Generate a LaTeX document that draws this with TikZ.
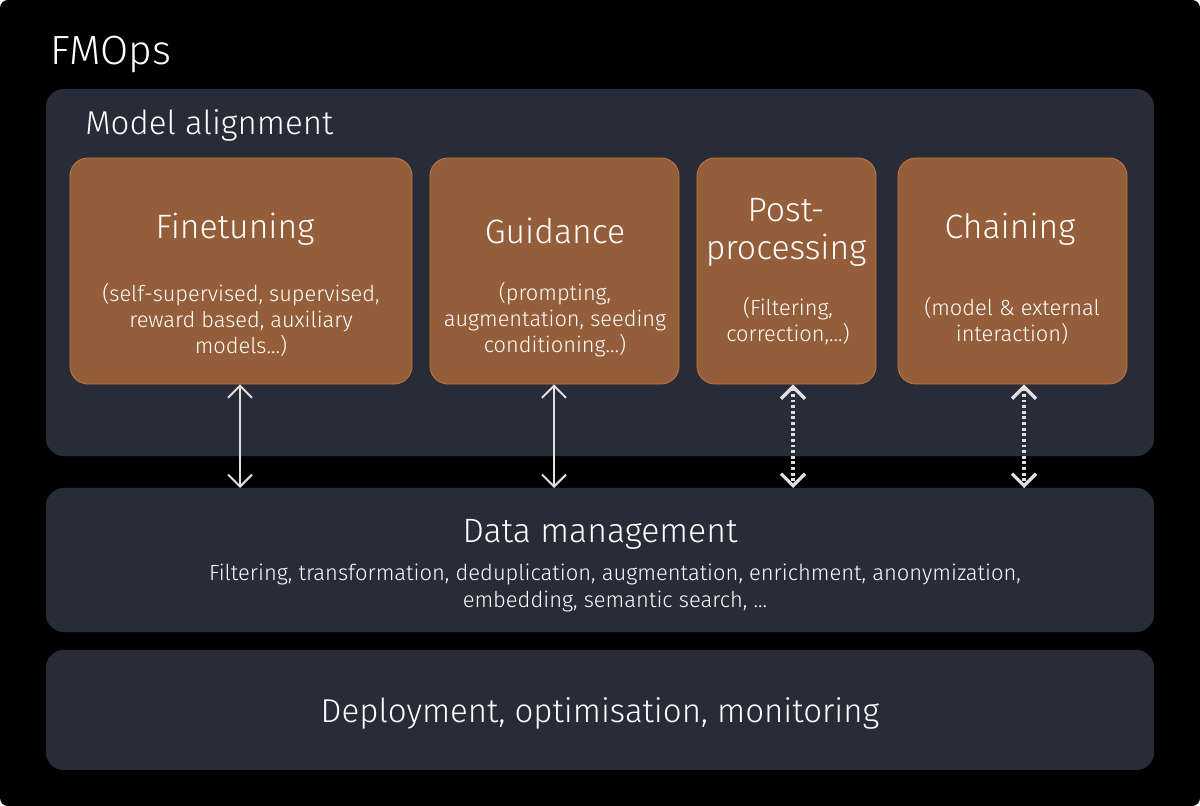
\documentclass[tikz,border=0pt]{standalone}
\usepackage{fontspec}
\setmainfont{Fira Sans}[UprightFont={* Light}]
\usepackage{tikz}
\usetikzlibrary{arrows.meta}
\usetikzlibrary{positioning}

\definecolor{panelgrey}{RGB}{40,44,57}
\definecolor{boxbrown}{RGB}{149,94,59}
\definecolor{boxedge}{RGB}{192,118,58}
\definecolor{arrowgrey}{RGB}{224,224,224}

\tikzset{
	link/.style={draw=arrowgrey, line width=1.4pt,
		{Straight Barb[length=3mm,width=6mm]}-{Straight Barb[length=3mm,width=6mm]}},
	dotlink/.style={link, line width=2.3pt, dash pattern=on 2pt off 2pt},
	bigtext/.style={font=\fontsize{24}{29}\selectfont},
	smalltext/.style={font=\fontsize{15.5}{18.5}\selectfont, align=center}
}

\begin{document}
\begin{tikzpicture}[x=0.025cm,y=-0.025cm]
	% frame
	\fill[white] (0,0) rectangle (1200,806);
	\fill[black, rounded corners=0.2cm] (0,0) rectangle (1200,806);
	% panels
	\begin{scope}[every node/.style={fill=panelgrey, rounded corners=0.45cm, minimum width=27.7cm, inner sep=0}]
		\node[minimum height=9.175cm] (align)  at (600,272.5) {};
		\node[minimum height=3.6cm]   (data)   at (600,560) {};
		\node[minimum height=3cm]     (deploy) at (600,710) {};
	\end{scope}
	% alignment boxes
	\begin{scope}[every node/.style={draw=boxedge, fill=boxbrown, line width=0.6pt, rounded corners=0.45cm, minimum height=5.65cm, inner sep=0}]
		\node[minimum width=8.55cm] (fine)  at (241,271) {};
		\node[minimum width=6.225cm] (guide) at (554.5,271) {};
		\node[minimum width=4.475cm] (post)  at (786.5,271) {};
		\node[minimum width=5.725cm] (chain) at (1012.5,271) {};
	\end{scope}
	% texts
	\begin{scope}[every node/.style={text=white, inner sep=0}]
		\node[font=\fontsize{29}{34}\selectfont, anchor=base west] (fmops) at (50,65) {FMOps};
		\node[font=\fontsize{23.5}{28}\selectfont, anchor=base west] (aligntitle) at (85,135) {Model alignment};
		\node[bigtext, anchor=base] (finetitle)  at (235,239) {Finetuning};
		\node[smalltext] (finesub) at (241,320) {(self-supervised, supervised,\\reward based, auxiliary\\models...)};
		\node[bigtext, anchor=base] (guidetitle) at (555,244) {Guidance};
		\node[smalltext] (guidesub) at (555,320) {(prompting,\\augmentation, seeding\\conditioning...)};
		\node[bigtext, anchor=base] (posttitle1) at (786,222) {Post-};
		\node[bigtext, anchor=base] (posttitle2) at (786,260) {processing};
		\node[smalltext] (postsub) at (788,321) {(Filtering,\\correction,...)};
		\node[bigtext, anchor=base] (chaintitle) at (1010,239) {Chaining};
		\node[smalltext] (chainsub) at (1012,321) {(model \& external\\interaction)};
		\node[bigtext, anchor=base] (datatitle) at (600,542) {Data management};
		\node[smalltext, font=\fontsize{15.6}{19}\selectfont] (datasub) at (615,588) {Filtering, transformation, deduplication, augmentation, enrichment, anonymization,\\embedding, semantic search, ...};
		\node[font=\fontsize{23.5}{28}\selectfont, anchor=base] (deploytitle) at (600,722) {Deployment, optimisation, monitoring};
	\end{scope}
	% arrows
	\coordinate (d1) at (240,488);
	\coordinate (d2) at (554,488);
	\coordinate (d3) at (793,488);
	\coordinate (d4) at (1024,488);
	\draw[link]    (fine.south -| d1)  -- (d1);
	\draw[link]    (guide.south -| d2) -- (d2);
	\draw[dotlink] (post.south -| d3)  -- (d3);
	\draw[dotlink] (chain.south -| d4) -- (d4);
\end{tikzpicture}
\end{document}
